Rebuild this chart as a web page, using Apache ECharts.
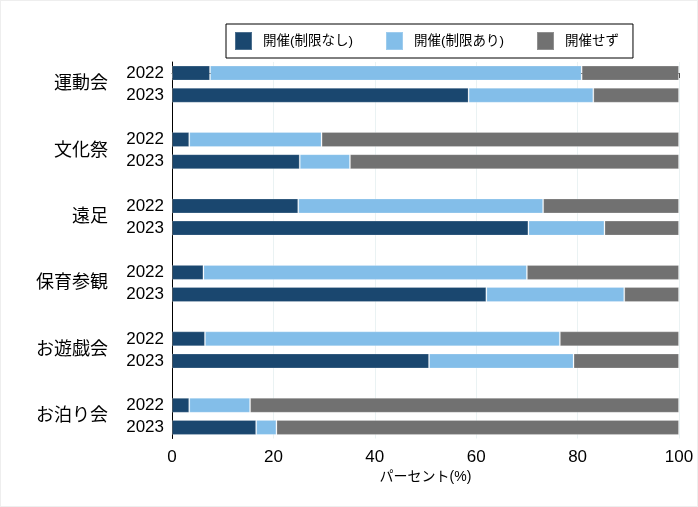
<!DOCTYPE html>
<html>
<head>
<meta charset="utf-8">
<script src="https://cdn.jsdelivr.net/npm/echarts@6/dist/echarts.min.js"></script>
<style>
html,body{margin:0;padding:0;background:#fff;}
#chart{width:698px;height:507px;outline:1px solid #eeeeee;outline-offset:-1px;}
</style>
</head>
<body>
<div id="chart"></div>
<script>
// ---- data ----
var groups = ['運動会', '文化祭', '遠足', '保育参観', 'お遊戯会', 'お泊り会'];
var years = ['2022', '2023'];
var seriesNames = ['開催(制限なし)', '開催(制限あり)', '開催せず'];
var noLimit2022 = [7.5, 3.4, 24.9, 6.2, 6.5, 3.4];
var noLimit2023 = [58.5, 25.2, 70.3, 62.0, 50.7, 16.6];
var limited2022 = [73.3, 26.1, 48.3, 63.8, 70.0, 12.0];
var limited2023 = [24.6, 9.9, 15.0, 27.2, 28.5, 4.0];
var none2022 = [19.2, 70.5, 26.8, 30.0, 23.5, 84.6];
var none2023 = [16.9, 64.9, 14.7, 10.8, 20.8, 79.4];
var xTicks = [0, 20, 40, 60, 80, 100];

// ---- build slots: 2022, 2023, (gap) per group ----
var slotLabels = [];
var groupCenters = [];
function build(a2022, a2023) {
  var out = [];
  for (var i = 0; i < groups.length; i++) {
    out.push(a2022[i], a2023[i]);
    if (i < groups.length - 1) out.push('-');
  }
  return out;
}
for (var i = 0; i < groups.length; i++) {
  groupCenters.push(slotLabels.length + 0.5);
  slotLabels.push(years[0], years[1]);
  if (i < groups.length - 1) slotLabels.push('');
}
var colors = ['#1a476f', '#83bee9', '#717171'];
var dataSets = [build(noLimit2022, noLimit2023), build(limited2022, limited2023), build(none2022, none2023)];

var font = '"Liberation Sans", Arial, "Noto Sans CJK JP", sans-serif';
var chart = echarts.init(document.getElementById('chart'), null, {renderer: 'canvas'});
var option = {
  animation: false,
  textStyle: {fontFamily: font},
  legend: {
    data: seriesNames,
    top: 24,
    left: 226,
    orient: 'horizontal',
    borderColor: '#000',
    borderWidth: 1,
    padding: [7, 14, 7, 8],
    itemWidth: 17,
    itemHeight: 18,
    itemGap: 32,
    icon: 'rect',
    textStyle: {fontSize: 13.5, color: '#000', fontFamily: font, padding: [0, 0, 0, 6]}
  },
  grid: {left: 172, right: 19, top: 62, height: 376.5},
  xAxis: {
    type: 'value',
    min: xTicks[0],
    max: xTicks[xTicks.length - 1],
    interval: 20,
    name: 'パーセント(%)',
    nameLocation: 'middle',
    nameGap: 32,
    nameTextStyle: {fontSize: 14, color: '#000', fontFamily: font},
    axisLine: {show: true, lineStyle: {color: '#555', width: 1}},
    axisTick: {show: true, length: 5, lineStyle: {color: '#555'}},
    axisLabel: {fontSize: 17, color: '#000', margin: 10, fontFamily: font},
    splitLine: {show: true, lineStyle: {color: '#eaf2f3', width: 1}}
  },
  yAxis: [{
    type: 'category',
    data: slotLabels,
    inverse: true,
    axisLine: {show: true, lineStyle: {color: '#000', width: 1}},
    axisTick: {show: false},
    axisLabel: {interval: 0, fontSize: 17, color: '#000', margin: 8, fontFamily: font},
    splitLine: {show: false}
  }, {
    type: 'value',
    position: 'left',
    inverse: true,
    min: -0.5,
    max: slotLabels.length - 0.5,
    axisLine: {show: false},
    axisTick: {show: false},
    splitLine: {show: false},
    axisLabel: {
      customValues: groupCenters,
      fontSize: 18,
      color: '#000',
      margin: 64,
      fontFamily: font,
      formatter: function (v) {
        var idx = groupCenters.indexOf(v);
        return idx >= 0 ? groups[idx] : '';
      }
    }
  }],
  series: seriesNames.map(function (n, k) {
    return {
      name: n,
      type: 'bar',
      stack: 'total',
      yAxisIndex: 0,
      barWidth: 15,
      itemStyle: {color: colors[k], borderColor: 'rgba(255,255,255,0.22)', borderWidth: 1},
      emphasis: {disabled: true},
      data: dataSets[k]
    };
  })
};
chart.setOption(option);
</script>
</body>
</html>
